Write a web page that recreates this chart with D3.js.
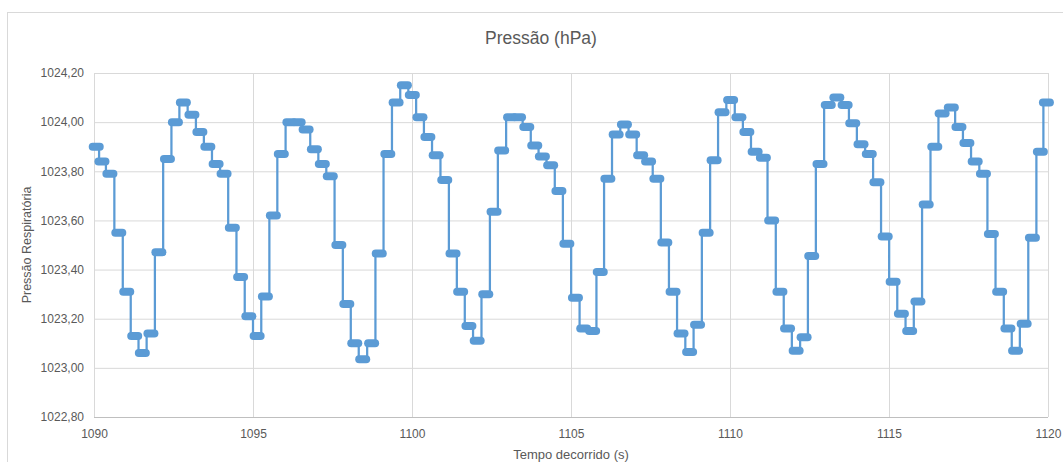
<!DOCTYPE html>
<html>
<head>
<meta charset="utf-8">
<script src="https://cdn.jsdelivr.net/npm/d3@7"></script>
<style>
  html, body { margin: 0; padding: 0; background: #ffffff; }
  svg { display: block; }
</style>
</head>
<body>
<svg id="chart" width="1063" height="462"></svg>
<script>
// ---- data ----
const times = [
  1090.07, 1090.25, 1090.50, 1090.78, 1091.03, 1091.28, 1091.52, 1091.79, 1092.04, 1092.31,
  1092.56, 1092.81, 1093.08, 1093.33, 1093.58, 1093.84, 1094.09, 1094.35, 1094.61, 1094.87,
  1095.13, 1095.39, 1095.64, 1095.89, 1096.16, 1096.42, 1096.67, 1096.93, 1097.18, 1097.43,
  1097.70, 1097.95, 1098.20, 1098.45, 1098.73, 1098.97, 1099.24, 1099.50, 1099.76, 1100.01,
  1100.25, 1100.50, 1100.76, 1101.03, 1101.29, 1101.53, 1101.79, 1102.05, 1102.32, 1102.58,
  1102.82, 1103.10, 1103.35, 1103.61, 1103.86, 1104.10, 1104.36, 1104.62, 1104.87, 1105.14,
  1105.40, 1105.68, 1105.92, 1106.16, 1106.42, 1106.68, 1106.94, 1107.19, 1107.44, 1107.70,
  1107.95, 1108.21, 1108.46, 1108.73, 1108.98, 1109.25, 1109.50, 1109.75, 1110.02, 1110.28,
  1110.53, 1110.79, 1111.05, 1111.31, 1111.57, 1111.81, 1112.08, 1112.33, 1112.57, 1112.83,
  1113.09, 1113.36, 1113.62, 1113.86, 1114.12, 1114.38, 1114.62, 1114.88, 1115.13, 1115.39,
  1115.65, 1115.91, 1116.17, 1116.44, 1116.67, 1116.96, 1117.20, 1117.45, 1117.71, 1117.97,
  1118.22, 1118.48, 1118.74, 1118.98, 1119.25, 1119.51, 1119.76, 1119.95
];
const pressure = [
  1023.90, 1023.84, 1023.79, 1023.55, 1023.31, 1023.13, 1023.06, 1023.14, 1023.47, 1023.85,
  1024.00, 1024.08, 1024.03, 1023.96, 1023.90, 1023.83, 1023.79, 1023.57, 1023.37, 1023.21,
  1023.13, 1023.29, 1023.62, 1023.87, 1024.00, 1024.00, 1023.97, 1023.89, 1023.83, 1023.78,
  1023.50, 1023.26, 1023.10, 1023.035, 1023.10, 1023.465, 1023.87, 1024.08, 1024.15, 1024.11,
  1024.02, 1023.94, 1023.865, 1023.765, 1023.465, 1023.31, 1023.17, 1023.11, 1023.30, 1023.635,
  1023.885, 1024.02, 1024.02, 1023.98, 1023.905, 1023.86, 1023.825, 1023.72, 1023.505, 1023.285,
  1023.16, 1023.15, 1023.39, 1023.77, 1023.95, 1023.99, 1023.95, 1023.865, 1023.84, 1023.77,
  1023.51, 1023.31, 1023.14, 1023.065, 1023.175, 1023.55, 1023.845, 1024.04, 1024.09, 1024.02,
  1023.96, 1023.88, 1023.855, 1023.60, 1023.31, 1023.16, 1023.07, 1023.125, 1023.455, 1023.83,
  1024.07, 1024.10, 1024.07, 1023.995, 1023.91, 1023.87, 1023.755, 1023.535, 1023.35, 1023.22,
  1023.15, 1023.27, 1023.665, 1023.90, 1024.035, 1024.06, 1023.98, 1023.915, 1023.84, 1023.79,
  1023.545, 1023.31, 1023.16, 1023.07, 1023.18, 1023.53, 1023.88, 1024.08
];
const xTicks = [1090, 1095, 1100, 1105, 1110, 1115, 1120];
const yTicks = [1022.8, 1023.0, 1023.2, 1023.4, 1023.6, 1023.8, 1024.0, 1024.2];
const titleText = "Pressão (hPa)";
const xTitle = "Tempo decorrido (s)";
const yTitle = "Pressão Respiratória";

// ---- layout ----
const svg = d3.select("#chart");
const W = 1063, H = 462;
const plot = { left: 94, right: 1048, top: 73, bottom: 417 };
const blue = "#5B9BD5";
const textColor = "#595959";
const font = "'Liberation Sans', Arial, sans-serif";

const locale = d3.formatLocale({ decimal: ",", thousands: ".", grouping: [3], currency: ["", ""] });
const fmtY = locale.format(".2f");

const x = d3.scaleLinear().domain([1090, 1120]).range([plot.left, plot.right]);
const y = d3.scaleLinear().domain([1022.8, 1024.2]).range([plot.bottom, plot.top]);

// chart border
svg.append("rect")
  .attr("x", 7.5).attr("y", 12.5)
  .attr("width", W + 10).attr("height", H + 10)
  .attr("fill", "#ffffff").attr("stroke", "#D9D9D9").attr("stroke-width", 1);

// title
svg.append("text")
  .attr("x", 541).attr("y", 44)
  .attr("text-anchor", "middle")
  .attr("font-family", font).attr("font-size", 17.5)
  .attr("fill", textColor)
  .text(titleText);

// gridlines
const yAxis = d3.axisLeft(y).tickValues(yTicks).tickFormat(fmtY)
  .tickSize(-(plot.right - plot.left)).tickPadding(10);
const gy = svg.append("g").attr("transform", `translate(${plot.left},0)`).call(yAxis);
gy.select(".domain").remove();
gy.selectAll(".tick line").attr("stroke", "#D9D9D9").attr("stroke-width", 1);
gy.selectAll(".tick text").attr("font-family", font).attr("font-size", 12).attr("fill", textColor);

const xAxis = d3.axisBottom(x).tickValues(xTicks).tickFormat(d3.format("d"))
  .tickSize(-(plot.bottom - plot.top)).tickPadding(12);
const gx = svg.append("g").attr("transform", `translate(0,${plot.bottom})`).call(xAxis);
gx.select(".domain").remove();
gx.selectAll(".tick line").attr("stroke", "#D9D9D9").attr("stroke-width", 1);
gx.selectAll(".tick text").attr("font-family", font).attr("font-size", 12).attr("fill", textColor);

// bottom axis line
svg.append("line")
  .attr("x1", plot.left).attr("x2", plot.right)
  .attr("y1", y(1022.8) + 0.5).attr("y2", y(1022.8) + 0.5)
  .attr("stroke", "#BFBFBF").attr("stroke-width", 1);

// axis titles
svg.append("text")
  .attr("x", (plot.left + plot.right) / 2).attr("y", 459)
  .attr("text-anchor", "middle")
  .attr("font-family", font).attr("font-size", 13)
  .attr("fill", textColor)
  .text(xTitle);

svg.append("text")
  .attr("transform", `translate(31,${(plot.top + plot.bottom) / 2}) rotate(-90)`)
  .attr("text-anchor", "middle")
  .attr("font-family", font).attr("font-size", 12.5)
  .attr("fill", textColor)
  .text(yTitle);

// series
const data = times.map((t, i) => ({ t, v: pressure[i] }));

const line = d3.line().x(d => x(d.t)).y(d => y(d.v)).curve(d3.curveStep);
svg.append("path")
  .datum(data)
  .attr("d", line)
  .attr("fill", "none")
  .attr("stroke", blue)
  .attr("stroke-width", 2.25)
  .attr("stroke-linejoin", "round");

svg.append("g").selectAll("rect")
  .data(data)
  .join("rect")
  .attr("x", d => x(d.t) - 7.5)
  .attr("y", d => y(d.v) - 4)
  .attr("width", 15)
  .attr("height", 8)
  .attr("rx", 4).attr("ry", 4)
  .attr("fill", blue);
</script>
</body>
</html>
